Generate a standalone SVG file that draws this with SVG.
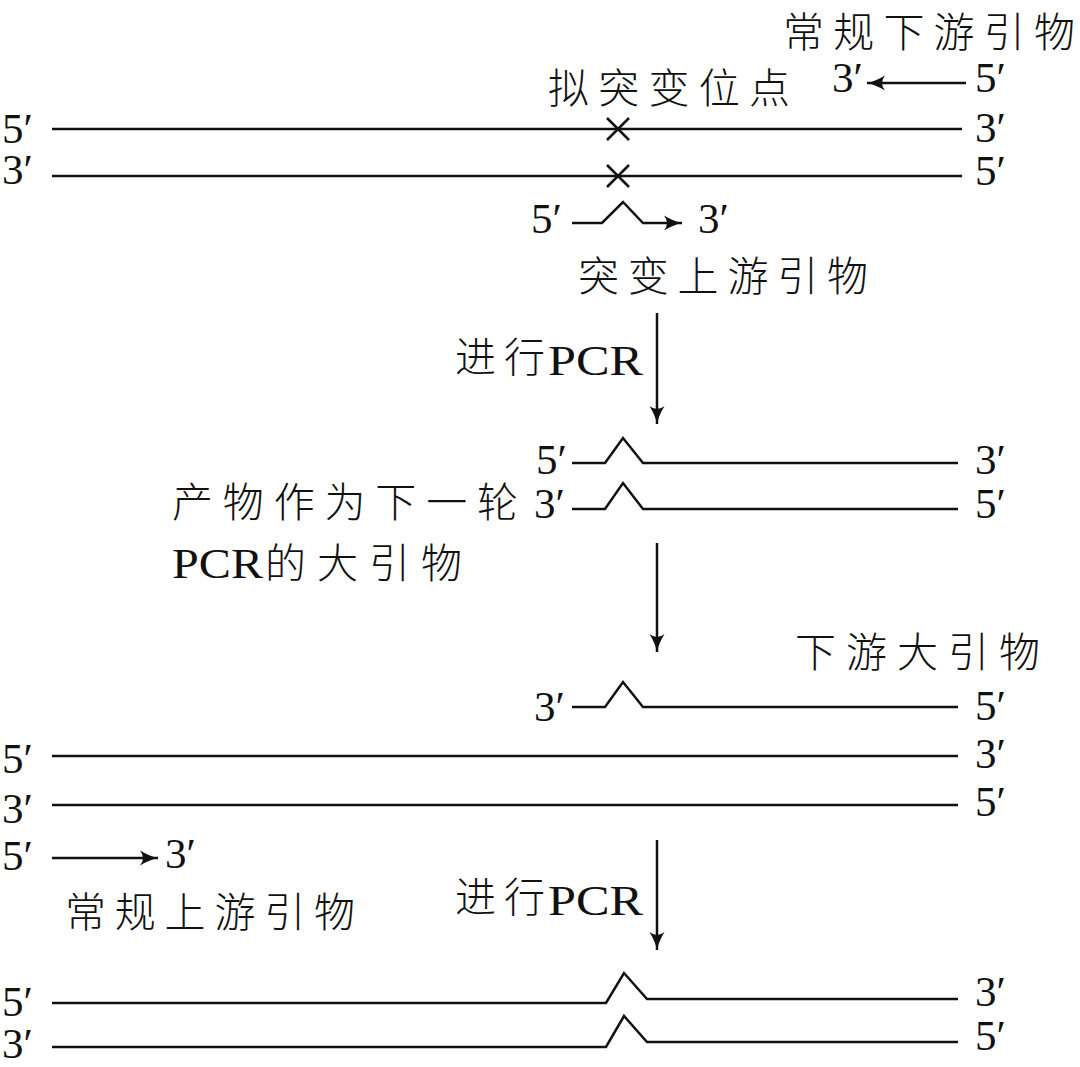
<svg xmlns="http://www.w3.org/2000/svg" width="1080" height="1067" viewBox="0 0 1080 1067">
<style>
.cn{font-family:"Noto Sans CJK SC","Noto Sans CJK TC",sans-serif;font-size:41px;font-weight:300;fill:#111}
.lt{font-family:"Liberation Serif","DejaVu Serif",serif;font-size:43px;fill:#111}
.pcr{font-family:"Liberation Serif","DejaVu Serif",serif;font-size:43px;fill:#111}
.s{fill:none;stroke:#111;stroke-width:2.5;stroke-linejoin:miter}
.a{fill:none;stroke:#111;stroke-width:2.5;marker-end:url(#ah)}
</style>
<defs>
<marker id="ah" viewBox="-19 -9 20 18" refX="0" refY="0" markerWidth="20" markerHeight="18" markerUnits="userSpaceOnUse" orient="auto">
<path d="M-18,-7.5 Q-8,-1.5 0,0 Q-8,1.5 -18,7.5 Q-12,0 -18,-7.5 Z" fill="#111"/>
</marker>
</defs>

<g id="connectors">
<line class="a" x1="657" y1="313" x2="657" y2="424"/>
<line class="a" x1="657" y1="543" x2="657" y2="652"/>
<line class="a" x1="657" y1="840" x2="657" y2="950"/>
</g>

<g id="template1">
<line class="s" x1="52" y1="129" x2="962" y2="129"/>
<line class="s" x1="52" y1="176" x2="962" y2="176"/>
<path class="s" d="M607,118 L629,140 M629,118 L607,140 M607,165 L629,187 M629,165 L607,187"/>
<text class="lt" x="2" y="143">5′</text>
<text class="lt" x="2" y="184">3′</text>
<text class="lt" x="975" y="142">3′</text>
<text class="lt" x="975" y="185">5′</text>
<text class="cn" x="548" y="103" textLength="242" lengthAdjust="spacing">拟突变位点</text>
</g>

<g id="downstream-primer">
<text class="cn" x="783" y="47" textLength="292" lengthAdjust="spacing">常规下游引物</text>
<line class="a" x1="966" y1="83" x2="867" y2="83"/>
<text class="lt" x="832" y="92">3′</text>
<text class="lt" x="975" y="92">5′</text>
</g>

<g id="mutant-upstream-primer">
<path class="a" d="M572,223 L602,223 L623,202 L643,223 L682,223"/>
<text class="lt" x="531" y="233">5′</text>
<text class="lt" x="698" y="233">3′</text>
<text class="cn" x="578" y="291" textLength="290" lengthAdjust="spacing">突变上游引物</text>
</g>

<g id="pcr1-label">
<text class="cn" x="455" y="372" textLength="90" lengthAdjust="spacing">进行</text>
<text class="pcr" x="548" y="375" textLength="95" lengthAdjust="spacingAndGlyphs">PCR</text>
</g>

<g id="product1">
<path class="s" d="M572,463 L605,463 L623,438 L643,463 L958,463"/>
<path class="s" d="M572,509 L605,509 L623,483 L643,509 L958,509"/>
<text class="lt" x="536" y="474">5′</text>
<text class="lt" x="534" y="518">3′</text>
<text class="lt" x="975" y="474">3′</text>
<text class="lt" x="975" y="518">5′</text>
<text class="cn" x="172" y="517" textLength="346" lengthAdjust="spacing">产物作为下一轮</text>
<text class="pcr" x="172" y="578" textLength="91" lengthAdjust="spacingAndGlyphs">PCR</text>
<text class="cn" x="265" y="578" textLength="197" lengthAdjust="spacing">的大引物</text>
</g>

<g id="big-downstream-primer">
<text class="cn" x="795" y="667" textLength="245" lengthAdjust="spacing">下游大引物</text>
<path class="s" d="M572,707 L605,707 L623,682 L643,707 L958,707"/>
<text class="lt" x="534" y="721">3′</text>
<text class="lt" x="975" y="720">5′</text>
</g>

<g id="template2">
<line class="s" x1="52" y1="756" x2="958" y2="756"/>
<line class="s" x1="52" y1="805" x2="958" y2="805"/>
<text class="lt" x="2" y="773">5′</text>
<text class="lt" x="2" y="823">3′</text>
<text class="lt" x="975" y="768">3′</text>
<text class="lt" x="975" y="816">5′</text>
</g>

<g id="upstream-primer">
<line class="a" x1="52" y1="858" x2="158" y2="858"/>
<text class="lt" x="2" y="870">5′</text>
<text class="lt" x="165" y="868">3′</text>
<text class="cn" x="65" y="927" textLength="290" lengthAdjust="spacing">常规上游引物</text>
</g>

<g id="pcr2-label">
<text class="cn" x="455" y="912" textLength="90" lengthAdjust="spacing">进行</text>
<text class="pcr" x="548" y="915" textLength="95" lengthAdjust="spacingAndGlyphs">PCR</text>
</g>

<g id="final-product">
<path class="s" d="M52,1003 L606,1003 L624,973 L647,999 L958,999"/>
<path class="s" d="M52,1047 L606,1047 L624,1016 L647,1042 L958,1042"/>
<text class="lt" x="2" y="1016">5′</text>
<text class="lt" x="2" y="1058">3′</text>
<text class="lt" x="975" y="1006">3′</text>
<text class="lt" x="975" y="1050">5′</text>
</g>
</svg>
